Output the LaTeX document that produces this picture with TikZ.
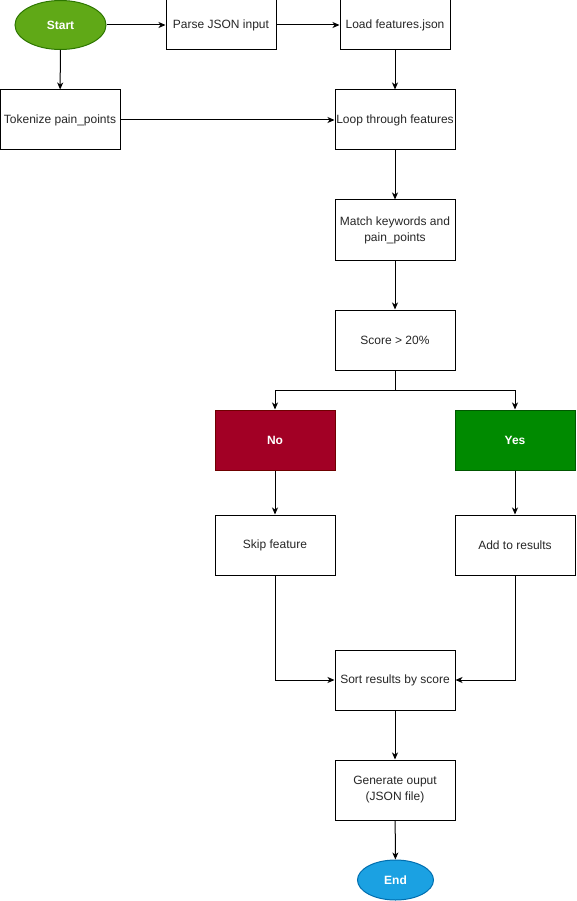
\documentclass[tikz,border=0pt]{standalone}
\usepackage{fontspec}
\setmainfont{Liberation Sans}
\usetikzlibrary{arrows.meta,shapes.geometric}
\definecolor{startgreen}{HTML}{60A917}
\definecolor{startline}{HTML}{2D7600}
\definecolor{nored}{HTML}{A20025}
\definecolor{noline}{HTML}{6F0000}
\definecolor{yesgreen}{HTML}{008A00}
\definecolor{yesline}{HTML}{005700}
\definecolor{endblue}{HTML}{1BA1E2}
\definecolor{endline}{HTML}{006EAF}
\begin{document}
\begin{tikzpicture}[x=1pt,y=-1pt,line width=1pt,
		every node/.style={font=\fontsize{12}{16}\selectfont},
		stepbox/.style={draw,rectangle,minimum width=120pt,minimum height=60pt,inner sep=0pt,align=center,text=black!85},
		smallbox/.style={stepbox,minimum width=110pt,minimum height=50pt},
		terminal/.style={ellipse,draw,inner sep=0pt,text=white,font=\fontsize{12}{16}\selectfont\bfseries},
		choice/.style={stepbox,text=white,font=\fontsize{12}{16}\selectfont\bfseries},
		flow/.style={-{Stealth[length=7pt,width=6pt,inset=2pt]}}]
	\useasboundingbox (0,0) rectangle (576,901);
	%Top row
	\node [terminal,fill=startgreen,draw=startline,minimum width=91pt,minimum height=49pt] (start) at (60.5,25) {Start};
	\node [smallbox] (parse) at (221,25) {Parse JSON input};
	\node [smallbox] (load) at (395,25) {Load features.json};
	%Second row
	\node [stepbox] (tokenize) at (60,120) {Tokenize pain\_points};
	\node [stepbox] (loop) at (395,120) {Loop through features};
	%Main column
	\node [stepbox] (match) at (395,230) {Match keywords and\\pain\_points};
	\node [stepbox] (score) at (395,340) {Score \textgreater{} 20\%};
	%Branches
	\node [choice,fill=nored,draw=noline] (no) at (275,440) {No};
	\node [choice,fill=yesgreen,draw=yesline] (yes) at (515,440) {Yes};
	\node [stepbox] (skip) at (275,545) {Skip feature};
	\node [stepbox] (add) at (515,545) {Add to results};
	%Bottom column
	\node [stepbox] (sort) at (395,680) {Sort results by score};
	\node [stepbox] (generate) at (395,790) {Generate ouput\\(JSON file)};
	\node [terminal,fill=endblue,draw=endline,minimum width=76pt,minimum height=40pt] (end) at (395.5,880) {End};
	%Connectors
	\draw [flow] (start) -- (parse);
	\draw [flow] (parse) -- (load);
	\draw [flow] (start) -- (tokenize);
	\draw [flow] (load) -- (loop);
	\draw [flow] (tokenize) -- (loop);
	\draw [flow] (loop) -- (match);
	\draw [flow] (match) -- (score);
	\coordinate (split) at (395,390);
	\draw (score.south) -- (split);
	\draw [flow] (split) -| (no.north);
	\draw [flow] (split) -| (yes.north);
	\draw [flow] (no) -- (skip);
	\draw [flow] (yes) -- (add);
	\draw [flow] (skip.south) |- (sort.west);
	\draw [flow] (add.south) |- (sort.east);
	\draw [flow] (sort) -- (generate);
	\draw [flow] (generate) -- (end);
\end{tikzpicture}
\end{document}
